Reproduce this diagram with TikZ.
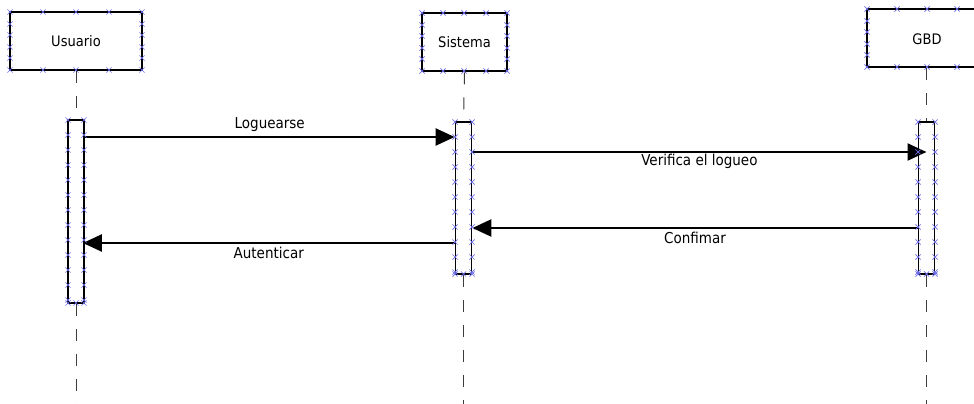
\documentclass[tikz,border=0pt]{standalone}
\usepackage{fontspec}
\setmainfont{DejaVu Sans Condensed}
\usetikzlibrary{arrows.meta,calc}
\definecolor{hcol}{RGB}{110,110,235}
\definecolor{llcol}{RGB}{60,60,60}
\tikzset{
  actor/.style={draw=black, line width=2.6pt, fill=white, inner sep=0pt, font=\fontsize{14.5}{16}\selectfont},
  actbar/.style={draw=black, line width=1.8pt, fill=white, inner sep=0pt, minimum width=16pt},
  lifeline/.style={draw=llcol, line width=1pt, dash pattern=on 12pt off 13pt},
  msg/.style={draw=black, line width=2.4pt, -{Triangle[length=19pt,width=17pt]}},
  lbl/.style={font=\fontsize{15}{17}\selectfont, inner sep=0pt},
  hmark/.style={draw=hcol, line width=0.7pt}
}
\newcommand\hx[2]{\draw[hmark] (#1-2.6,#2-2.6) -- (#1+2.6,#2+2.6) (#1-2.6,#2+2.6) -- (#1+2.6,#2-2.6);}
\begin{document}
\begin{tikzpicture}[x=1pt,y=-1pt]
\useasboundingbox (0,0) rectangle (974,404);
\clip (0,0) rectangle (974,404);
% actors
\node[actor, minimum width=132pt, minimum height=58pt] (usr) at (76,41) {Usuario};
\node[actor, minimum width=85pt, minimum height=58pt] (sis) at (464.5,42) {Sistema};
\node[actor, minimum width=120pt, minimum height=58pt] (gbd) at (927,38) {};
\node[font=\fontsize{14.5}{16}\selectfont, inner sep=0pt] (gbdl) at (927,39) {GBD};
% activation bars
\node[actbar, minimum height=183pt] (a1) at (76,211.5) {};
\node[actbar, minimum height=152pt] (a2) at (463.5,198) {};
\node[actbar, minimum height=152pt] (a3) at (926.5,198) {};
% lifelines
\coordinate (bot1) at (76,410);
\coordinate (bot2) at (463.5,410);
\coordinate (bot3) at (926.5,410);
\draw[lifeline] (usr.south) -- (a1.north);
\draw[lifeline] (a1.south) -- (bot1);
\draw[lifeline] (sis.south) -- (a2.north);
\draw[lifeline] (a2.south) -- (bot2);
\draw[lifeline] (gbd.south -| a3.north) -- (a3.north);
\draw[lifeline] (a3.south) -- (bot3);
% messages
\coordinate (m1) at (0,137);
\coordinate (m2) at (0,152);
\coordinate (m3) at (0,228);
\coordinate (m4) at (0,243);
\draw[msg] (a1.east |- m1) -- node[lbl, midway, yshift=12pt] {Loguearse} (a2.west |- m1);
\draw[msg] (a2.east |- m2) -- node[lbl, midway, yshift=-9pt] {Verifica el logueo} (a3.center |- m2);
\draw[msg] (a3.west |- m3) -- node[lbl, midway, yshift=-10pt] {Confimar} (a2.east |- m3);
\draw[msg] (a2.west |- m4) -- node[lbl, midway, yshift=-10pt] {Autenticar} ($(a1.east |- m4)+(-2,0)$);
% selection handles
\foreach \x in {10,43,76,109,142} {\hx{\x}{12} \hx{\x}{70}}
\foreach \y in {24,35,47,58} {\hx{10}{\y} \hx{142}{\y}}
\foreach \x in {422,443,464,486,507} {\hx{\x}{13} \hx{\x}{71}}
\foreach \y in {25,36,48,59} {\hx{422}{\y} \hx{507}{\y}}
\foreach \x in {867,897,927,957} {\hx{\x}{9} \hx{\x}{67}}
\foreach \y in {21,32,44,55} {\hx{867}{\y}}
\foreach \y in {120,135,...,300} {\hx{68}{\y} \hx{84}{\y}}
\hx{68}{303} \hx{84}{303} \hx{76}{303}
\foreach \y in {122,137,...,272} {\hx{455}{\y} \hx{472}{\y} \hx{918}{\y} \hx{935}{\y}}
\hx{455}{274} \hx{472}{274} \hx{463.5}{274}
\hx{918}{274} \hx{935}{274} \hx{926.5}{274}
\end{tikzpicture}
\end{document}
